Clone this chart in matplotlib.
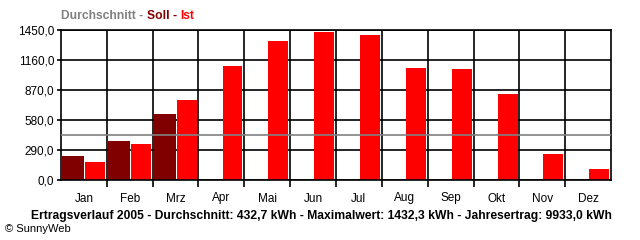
import numpy as np
import matplotlib.pyplot as plt

months = ['Jan', 'Feb', 'Mrz', 'Apr', 'Mai', 'Jun', 'Jul', 'Aug', 'Sep', 'Okt', 'Nov', 'Dez']
soll = [232, 377, 638]          # nur Jan-Mrz
ist = [172, 345, 775, 1100, 1340, 1432.3, 1400, 1080, 1070, 830, 250, 110]
durchschnitt = 432.7
yticks = [0, 290, 580, 870, 1160, 1450]

plt.rcParams['font.family'] = ['Liberation Sans', 'DejaVu Sans']

fig = plt.figure(figsize=(6.4, 2.4), dpi=100)
ax = fig.add_axes([61 / 640, 60 / 240, 550 / 640, 150 / 240])

x = np.arange(len(months))
ax.bar(x[:len(soll)] - 0.238, soll, width=0.48, color='#800000', zorder=2)
ax.bar(x + 0.242, ist, width=0.436, color='#ff0000', zorder=2)
ax.axhline(durchschnitt, color='#808080', lw=1.2, zorder=3)

ax.set_xlim(-0.5, len(months) - 0.5)
ax.set_ylim(0, 1450)
ax.set_yticks(yticks)
ax.set_yticklabels([f'{v:.1f}'.replace('.', ',') for v in yticks], fontsize=8.5)
ax.set_xticks(x)
ax.set_xticklabels(months, fontsize=8.5)
ax.set_xticks(x[:-1] + 0.5, minor=True)
ax.tick_params(axis='x', which='major', length=0, pad=9)
ax.tick_params(axis='x', which='minor', length=5, width=1.2, direction='out')
ax.tick_params(axis='y', length=3, width=1.2, pad=2)
for v in yticks:
    ax.axhline(v, color='black', lw=1.2, zorder=1)
for b in x[:-1] + 0.5:
    ax.axvline(b, color='black', lw=1.2, zorder=1)
for s in ax.spines.values():
    s.set_linewidth(1.2)

# Titel oben, Stücke nacheinander setzen
renderer = fig.canvas.get_renderer()
xpos = 61 / 640
for txt, col in [('Durchschnitt - ', '#808080'), ('Soll - ', '#800000'), ('Ist', '#ff0000')]:
    t = fig.text(xpos, 1 - 16 / 240, txt, color=col, fontsize=8.7,
                 fontweight='bold', va='center')
    bb = t.get_window_extent(renderer)
    xpos = bb.x1 / fig.bbox.width

fig.text(321 / 640, 1 - 216 / 240,
         'Ertragsverlauf 2005 - Durchschnitt: 432,7 kWh - Maximalwert: 1432,3 kWh - Jahresertrag: 9933,0 kWh',
         fontsize=8.7, fontweight='bold', ha='center', va='center')
fig.text(5 / 640, 1 - 229 / 240, '© SunnyWeb', fontsize=8, va='center')

fig.savefig('out.png', dpi=100)
